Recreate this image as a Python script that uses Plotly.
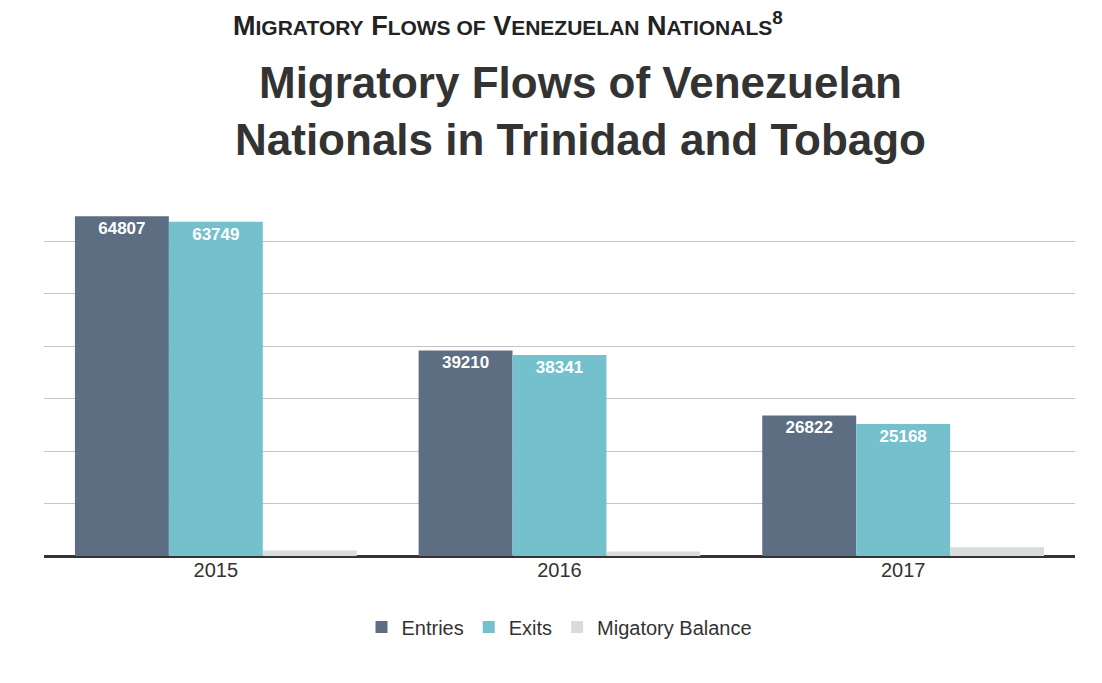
import plotly.graph_objects as go

years = ["2015", "2016", "2017"]
entries = [64807, 39210, 26822]
exits = [63749, 38341, 25168]
balance = [1058, 869, 1654]

C_ENT = "#5d6e83"
C_EXI = "#74c1cd"
C_BAL = "#d9dcdc"

fig = go.Figure()
fig.add_trace(go.Bar(
    name="Entries", x=years, y=entries, marker=dict(color=C_ENT, line=dict(width=0)),
    text=["<b>%d</b>" % v for v in entries], textposition="inside", insidetextanchor="end",
    textfont=dict(color="white", size=17, family="Liberation Sans"),
    textangle=0,
))
fig.add_trace(go.Bar(
    name="Exits", x=years, y=exits, marker=dict(color=C_EXI, line=dict(width=0)),
    text=["<b>%d</b>" % v for v in exits], textposition="inside", insidetextanchor="end",
    textfont=dict(color="white", size=17, family="Liberation Sans"),
    textangle=0,
))
fig.add_trace(go.Bar(
    name="Migatory Balance", x=years, y=balance, marker=dict(color=C_BAL, line=dict(width=0)),
))

heading = ("<b>M<span style='font-size:21px'>IGRATORY</span> "
           "F<span style='font-size:21px'>LOWS OF</span> "
           "V<span style='font-size:21px'>ENEZUELAN</span> "
           "N<span style='font-size:21px'>ATIONALS</span><sup>8</sup></b>")

fig.update_layout(
    width=1102, height=683,
    paper_bgcolor="white", plot_bgcolor="white",
    barmode="group", bargap=0.18, bargroupgap=0,
    margin=dict(l=36, r=35, t=181, b=135),
    font=dict(family="Liberation Sans", color="#333333"),
    showlegend=True,
    legend=dict(orientation="h", x=0.5, xanchor="center", y=-0.14, yanchor="top",
                font=dict(size=20, color="#333333"), itemwidth=30,
                traceorder="normal"),
    xaxis=dict(showgrid=False, ticks="", tickfont=dict(size=20, color="#333333"),
               showline=False),
    yaxis=dict(range=[0, 70000], dtick=10000, showticklabels=False, ticks="",
               showgrid=True, gridcolor="#c4c4c4", gridwidth=1,
               zeroline=True, zerolinecolor="#333333", zerolinewidth=3),
    annotations=[
        dict(text="<b>Migratory Flows of Venezuelan<br>Nationals in Trinidad and Tobago</b>",
             x=0.52, xref="paper", y=1, yref="paper", showarrow=False,
             font=dict(size=44, color="#333333", family="Liberation Sans")),
        dict(text=heading,
             x=0.45, xref="paper", y=1, yref="paper", showarrow=False,
             font=dict(size=27, color="#222222", family="Liberation Sans")),
    ],
)

plot_h = 683 - 181 - 135
fig.layout.annotations[0].update(y=1 + (181 - 103) / plot_h, yanchor="middle")
fig.layout.annotations[1].update(y=1 + (181 - 16) / plot_h, yanchor="middle")

fig.write_html("out.html")
